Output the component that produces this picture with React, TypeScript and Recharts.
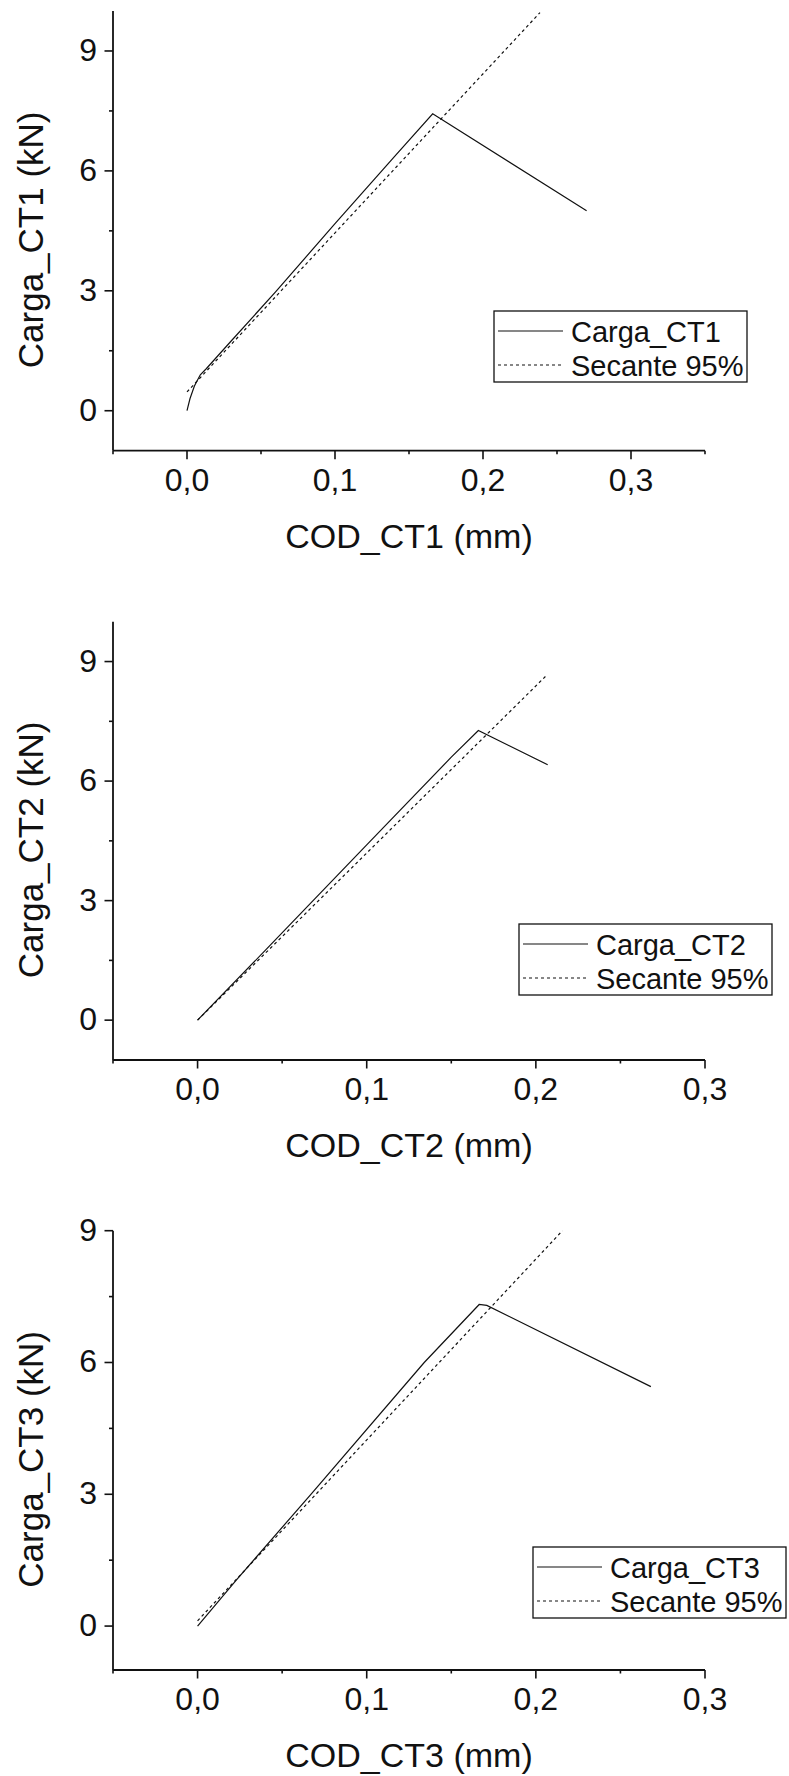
import { LineChart, Line, XAxis, YAxis } from 'recharts';

// ---- data ----
const codCT1 = [0, 0.002, 0.005, 0.009, 0.013, 0.03, 0.06, 0.1, 0.14, 0.166, 0.27];
const cargaCT1 = [0, 0.3, 0.62, 0.9, 1.05, 1.75, 2.98, 4.68, 6.35, 7.43, 5.0];
const secCodCT1 = [0, 0.2385];
const secCargaCT1 = [0.47, 9.96];

const codCT2 = [0, 0.04, 0.1, 0.15, 0.166, 0.207];
const cargaCT2 = [0, 1.75, 4.4, 6.6, 7.27, 6.41];
const secCodCT2 = [0, 0.206];
const secCargaCT2 = [0, 8.64];

const codCT3 = [0, 0.023, 0.067, 0.134, 0.1665, 0.171, 0.268];
const cargaCT3 = [0, 1.05, 3.0, 6.0, 7.32, 7.3, 5.45];
const secCodCT3 = [0, 0.2157];
const secCargaCT3 = [0.12, 9.0];

const xTicksWide = [-0.05, 0, 0.05, 0.1, 0.15, 0.2, 0.25, 0.3, 0.35];
const xTicksNarrow = [-0.05, 0, 0.05, 0.1, 0.15, 0.2, 0.25, 0.3];
const yTicksLoad = [0, 1.5, 3, 4.5, 6, 7.5, 9];

const FONT = '"Liberation Sans", Arial, sans-serif';
const INK = '#111';

const pairs = (xs: number[], ys: number[]) => xs.map((x, i) => ({ x, y: ys[i] }));

const isMajorX = (v: number) => Math.abs(v * 10 - Math.round(v * 10)) < 1e-6;
const isMajorY = (v: number) => Math.abs(v % 3) < 1e-6;

function XTick(props: any) {
  const { x, y, payload } = props;
  const major = isMajorX(payload.value);
  return (
    <g>
      <line x1={x} y1={y} x2={x} y2={y + (major ? 8.5 : 3.5)} stroke={INK} strokeWidth={1.6} />
      {major && (
        <text x={x} y={y + 40} textAnchor="middle" fontSize={32} fontFamily={FONT} fill={INK}>
          {payload.value.toFixed(1).replace('.', ',')}
        </text>
      )}
    </g>
  );
}

function YTick(props: any) {
  const { x, y, payload } = props;
  const major = isMajorY(payload.value);
  return (
    <g>
      <line x1={x - (major ? 8.5 : 4)} y1={y} x2={x} y2={y} stroke={INK} strokeWidth={1.6} />
      {major && (
        <text x={x - 16} y={y + 10} textAnchor="end" fontSize={32} fontFamily={FONT} fill={INK}>
          {payload.value}
        </text>
      )}
    </g>
  );
}

interface PanelProps {
  top: number;
  height: number;
  plotTop: number;
  plotBottom: number;
  xDomain: [number, number];
  xTicks: number[];
  yDomain: [number, number];
  carga: { x: number; y: number }[];
  secante: { x: number; y: number }[];
  name: string;
  legendLeft: number;
  legendTop: number;
}

function Panel({ top, height, plotTop, plotBottom, xDomain, xTicks, yDomain, carga, secante, name, legendLeft, legendTop }: PanelProps) {
  const axisH = 100;
  const margin = { top: plotTop - top, right: 84, left: 0, bottom: height - (plotBottom - top) - axisH };
  const midY = (plotTop + plotBottom) / 2 - top + 9;
  return (
    <div style={{ position: 'absolute', left: 0, top, width: 789, height }}>
      <LineChart width={789} height={height} margin={margin}>
        <XAxis
          type="number"
          dataKey="x"
          domain={xDomain}
          ticks={xTicks}
          interval={0}
          allowDataOverflow
          height={axisH}
          tickSize={0}
          tickMargin={0}
          tickLine={false}
          axisLine={{ stroke: INK, strokeWidth: 1.8 }}
          tick={(p: any) => <XTick {...p} />}
        />
        <YAxis
          type="number"
          domain={yDomain}
          ticks={yTicksLoad}
          interval={0}
          allowDataOverflow
          width={113}
          tickSize={0}
          tickMargin={0}
          tickLine={false}
          axisLine={{ stroke: INK, strokeWidth: 1.8 }}
          tick={(p: any) => <YTick {...p} />}
        />
        <Line data={carga} dataKey="y" type="linear" dot={false} stroke={INK} strokeWidth={1.2} isAnimationActive={false} />
        <Line data={secante} dataKey="y" type="linear" dot={false} stroke={INK} strokeWidth={1.2} strokeDasharray="3 3" isAnimationActive={false} />
      </LineChart>
      <svg width={789} height={height} style={{ position: 'absolute', left: 0, top: 0, pointerEvents: 'none' }}>
        <text x={43} y={midY} transform={`rotate(-90, 43, ${midY})`} textAnchor="middle" fontSize={35} fontFamily={FONT} fill={INK}>
          {`Carga_${name} (kN)`}
        </text>
        <text x={409} y={plotBottom - top + 97} textAnchor="middle" fontSize={34} fontFamily={FONT} fill={INK}>
          {`COD_${name} (mm)`}
        </text>
        <g transform={`translate(${legendLeft}, ${legendTop - top})`}>
          <rect x={0} y={0} width={253} height={71} fill="#fff" stroke={INK} strokeWidth={1.3} />
          <line x1={4} y1={20} x2={69} y2={20} stroke={INK} strokeWidth={1.2} />
          <line x1={4} y1={54} x2={69} y2={54} stroke={INK} strokeWidth={1.2} strokeDasharray="3 3" />
          <text x={77} y={30.5} fontSize={29} fontFamily={FONT} fill={INK}>{`Carga_${name}`}</text>
          <text x={77} y={64.5} fontSize={29} fontFamily={FONT} fill={INK}>Secante 95%</text>
        </g>
      </svg>
    </div>
  );
}

export default function App() {
  return (
    <div style={{ position: 'absolute', left: 0, top: 0, width: 789, height: 1776, background: '#fff' }}>
      <Panel
        top={0}
        height={600}
        plotTop={11}
        plotBottom={450.7}
        xDomain={[-0.05, 0.35]}
        xTicks={xTicksWide}
        yDomain={[-1, 10]}
        carga={pairs(codCT1, cargaCT1)}
        secante={pairs(secCodCT1, secCargaCT1)}
        name="CT1"
        legendLeft={494}
        legendTop={311}
      />
      <Panel
        top={600}
        height={580}
        plotTop={621.7}
        plotBottom={1060}
        xDomain={[-0.05, 0.3]}
        xTicks={xTicksNarrow}
        yDomain={[-1, 10]}
        carga={pairs(codCT2, cargaCT2)}
        secante={pairs(secCodCT2, secCargaCT2)}
        name="CT2"
        legendLeft={519}
        legendTop={924}
      />
      <Panel
        top={1180}
        height={596}
        plotTop={1230.7}
        plotBottom={1670}
        xDomain={[-0.05, 0.3]}
        xTicks={xTicksNarrow}
        yDomain={[-1, 9]}
        carga={pairs(codCT3, cargaCT3)}
        secante={pairs(secCodCT3, secCargaCT3)}
        name="CT3"
        legendLeft={533}
        legendTop={1547}
      />
    </div>
  );
}
